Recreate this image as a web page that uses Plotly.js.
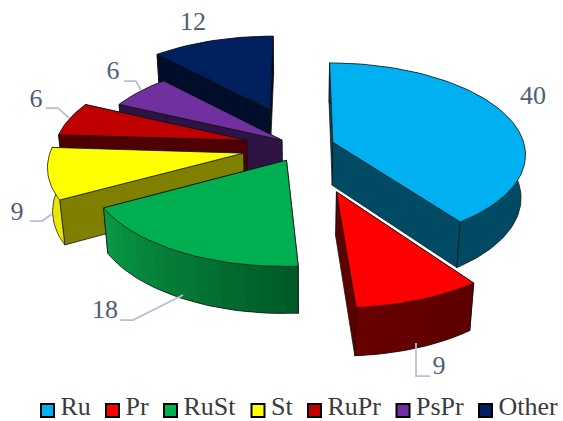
<!DOCTYPE html>
<html><head><meta charset="utf-8">
<script src="https://cdn.plot.ly/plotly-3.0.1.min.js"></script>
<style>html,body{margin:0;padding:0;background:#fff}#c{width:563px;height:421px}</style>
</head><body><div id="c"></div>
<script>
const categories = ["Ru","Pr","RuSt","St","RuPr","PsPr","Other"];
const values = [40,9,18,9,6,6,12];
const topColors = ["#00B0F0","#FF0000","#00B050","#FFFF00","#C00000","#7030A0","#002060"];
const wallColors = ["#004A63","#5C0000","#007A38","#7F7F00","#500000","#2E1345","#000D2B"];
const rimStart = ["#004A63","#5C0000","#005A28","#E8E800","#500000","#2E1345","#000D2B"];
const rimEnd = ["#004A63","#6A0000","#0A9C46","#E8E800","#500000","#2E1345","#000D2B"];
const pull = [0.17,0.50,0.165,0.31,0.30,0.13,0.48];
const drawOrder = [6,5,4,3,2,1,0];
const labelX = [533,439,105,17,36,113,193];
const labelY = [97,367,311,213,100,72,23];
const leaderX = [[],[416,416,430],[120,133,183],[30,42,52],[46,58,69],[124,136,141],[]];
const leaderY = [[],[343,376,376],[320,320,295],[221,221,214],[108,108,118],[81,81,90],[]];
const legendX = [47.5,112.5,170.5,258,314.5,403,485.5];
const legendY = 410.5;

const view = {cx:302, cy:147, a:192, b:90, k:0.12, h:44, kz:0.02};
function project(px,py,low){
  let w = 1 + view.k*py + (low ? view.kz : 0);
  return [view.cx + view.a*px/w, view.cy + (-view.b*py + (low ? view.h : 0))/w];
}
const total = values.reduce((s,v)=>s+v,0);
let run = 0;
const bounds = values.map(v=>{const s=run; run+=v; return [s/total*2*Math.PI, run/total*2*Math.PI];});
function mix(c1,c2,t){
  const p=c=>[1,3,5].map(i=>parseInt(c.substr(i,2),16));
  const A=p(c1),B=p(c2);
  return "rgb("+A.map((v,i)=>Math.round(v+(B[i]-v)*t)).join(",")+")";
}
const traces=[];
function poly(pts,fill,line,width){
  traces.push({type:"scatter",mode:"lines",x:pts.map(p=>p[0]),y:pts.map(p=>p[1]),
    fill:"toself",fillcolor:fill,line:{color:line,width:width},hoverinfo:"skip",showlegend:false});
}
function path(pts,line,width){
  traces.push({type:"scatter",mode:"lines",x:pts.map(p=>p[0]),y:pts.map(p=>p[1]),
    line:{color:line,width:width},hoverinfo:"skip",showlegend:false});
}
drawOrder.forEach(i=>{
  const [t0,t1]=bounds[i], mid=(t0+t1)/2;
  const ex=pull[i]*Math.sin(mid), ey=pull[i]*Math.cos(mid);
  const pt=(t,low)=>project(ex+Math.sin(t),ey+Math.cos(t),low);
  const apex=low=>project(ex,ey,low);
  const n=Math.max(8,Math.round((t1-t0)/0.03));
  const arc=low=>{const o=[];for(let j=0;j<=n;j++)o.push(pt(t0+(t1-t0)*j/n,low));return o;};
  const edge="#111111";
  const wall=t=>poly([apex(false),pt(t,false),pt(t,true),apex(true),apex(false)],wallColors[i],edge,0.75);
  if(Math.cos(t0)>Math.cos(t1)){wall(t0);wall(t1);}else{wall(t1);wall(t0);}
  const top=arc(false), low=arc(true);
  if(rimStart[i]===rimEnd[i]){
    poly(top.concat(low.slice().reverse(),[top[0]]),rimStart[i],rimStart[i],0);
  } else {
    const band=Math.max(1,Math.floor(n/14));
    for(let j=0;j<n;j+=band){
      const e=Math.min(n,j+2*band);
      const a=top.slice(j,e+1), b=low.slice(j,e+1).reverse();
      poly(a.concat(b,[a[0]]),mix(rimStart[i],rimEnd[i],j/n),mix(rimStart[i],rimEnd[i],j/n),0);
    }
  }
  path(low,edge,0.75);
  path([top[0],low[0]],edge,0.75);
  path([top[n],low[n]],edge,0.75);
  poly([apex(false)].concat(top,[apex(false)]),topColors[i],edge,0.75);
});
leaderX.forEach((xs,i)=>{ if(xs.length) path(xs.map((x,j)=>[x,leaderY[i][j]]),"#B4C0D4",1.75); });
categories.forEach((name,i)=>{
  traces.push({type:"scatter",mode:"markers",name:name,x:[legendX[i]],y:[legendY],
    marker:{symbol:"square",size:13,color:topColors[i],line:{color:"#000",width:2}},
    hoverinfo:"skip",showlegend:false,cliponaxis:false});
  traces.push({type:"scatter",mode:"text",x:[legendX[i]+13],y:[legendY-2],
    text:[name],textposition:"middle right",
    textfont:{family:"Liberation Serif",size:26,color:"#3A3A3A"},hoverinfo:"skip",showlegend:false,cliponaxis:false});
});
traces.push({type:"scatter",mode:"text",x:labelX,y:labelY,text:values.map(String),
  textposition:"middle center",textfont:{family:"Liberation Serif",size:26,color:"#4E5D78"},
  hoverinfo:"skip",showlegend:false,cliponaxis:false});
Plotly.newPlot("c",traces,{
  width:563,height:421,margin:{l:0,r:0,t:0,b:0},paper_bgcolor:"#fff",plot_bgcolor:"#fff",showlegend:false,
  xaxis:{range:[0,563],visible:false,fixedrange:true},
  yaxis:{range:[421,0],visible:false,fixedrange:true}
},{displayModeBar:false,staticPlot:true});
</script></body></html>
